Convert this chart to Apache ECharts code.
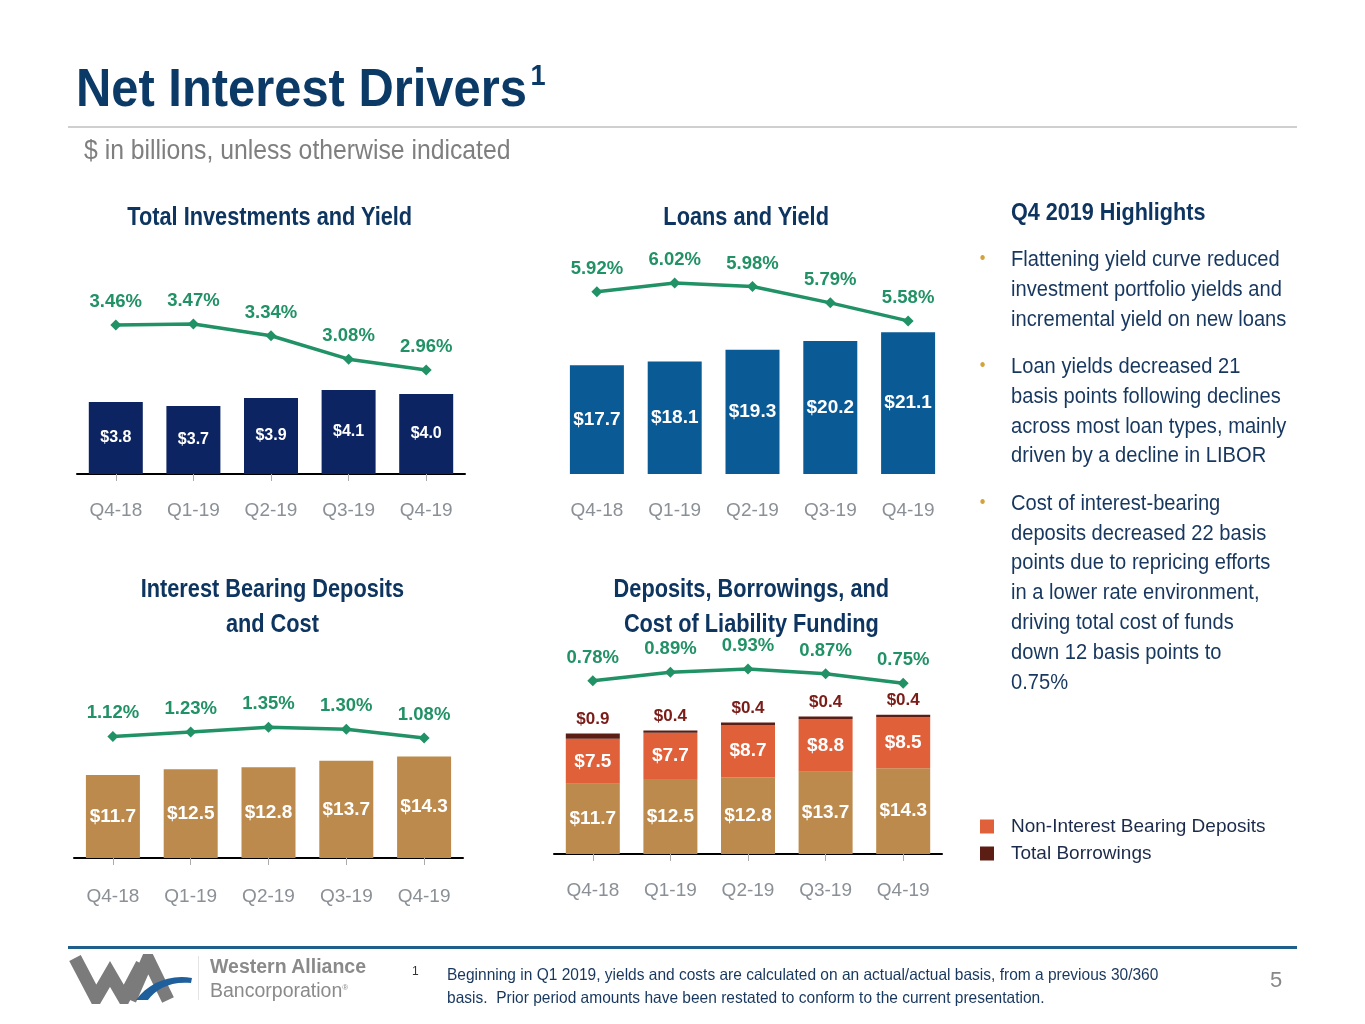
<!DOCTYPE html>
<html>
<head>
<meta charset="utf-8">
<script src="https://cdn.jsdelivr.net/npm/echarts@6/dist/echarts.min.js"></script>
<style>
  body { margin: 0; background: #fff; font-family: "Liberation Sans", Arial, sans-serif; }
  #page { position: relative; width: 1365px; height: 1024px; overflow: hidden; }
  #chart { position: absolute; left: 0; top: 0; width: 1365px; height: 1024px; }
  .t { position: absolute; white-space: nowrap; transform-origin: 0 0; }
  .ctitle { position: absolute; width: 400px; color: #0d3560; font-weight: bold; font-size: 25px; text-align: center; line-height: 35px; white-space: nowrap; }
  .ctitle span { display: inline-block; transform: scaleX(0.87); }
  ul { position: absolute; margin: 0; padding: 0; list-style: none; color: #17375e; font-size: 22.5px; line-height: 29.8px; white-space: nowrap; transform: scaleX(0.895); transform-origin: 0 0; }
  li { position: relative; margin-bottom: 17.6px; }
  li:before { content: "\2022"; position: absolute; left: -35px; color: #d4a23c; font-size: 18px; }
</style>
</head>
<body>
<div id="page">
  <div id="chart"></div>

  <div class="t" style="left:76px;top:50px;font-size:54px;line-height:54px;font-weight:bold;color:#0b3a67;transform:scaleX(0.905);">Net Interest Drivers<sup style="font-size:30px;position:relative;top:-2px;margin-left:4px;">1</sup></div>
  <div style="position:absolute;left:68px;top:126px;width:1229px;height:2px;background:#cfcfcf;"></div>
  <div class="t" style="left:84px;top:136px;font-size:27.5px;line-height:27.5px;color:#7f7f7f;transform:scaleX(0.9);">$ in billions, unless otherwise indicated</div>

  <div class="ctitle" style="left:70px;top:199px;"><span>Total Investments and Yield</span></div>
  <div class="ctitle" style="left:546px;top:199px;"><span>Loans and Yield</span></div>
  <div class="ctitle" style="left:72px;top:571px;"><span>Interest Bearing Deposits<br>and Cost</span></div>
  <div class="ctitle" style="left:551px;top:571px;"><span>Deposits, Borrowings, and<br>Cost of Liability Funding</span></div>

  <div class="t" style="left:1011px;top:198px;font-size:24px;font-weight:bold;color:#0d3560;transform:scaleX(0.9);">Q4 2019 Highlights</div>
  <ul style="left:1011px;top:244px;">
    <li>Flattening yield curve reduced<br>investment portfolio yields and<br>incremental yield on new loans</li>
    <li>Loan yields decreased 21<br>basis points following declines<br>across most loan types, mainly<br>driven by a decline in LIBOR</li>
    <li>Cost of interest-bearing<br>deposits decreased 22 basis<br>points due to repricing efforts<br>in a lower rate environment,<br>driving total cost of funds<br>down 12 basis points to<br>0.75%</li>
  </ul>

  <div style="position:absolute;left:68px;top:946px;width:1229px;height:3px;background:#1f5f8b;"></div>
  <svg style="position:absolute;left:68px;top:954px;" width="130" height="50" viewBox="0 0 130 50">
    <polyline points="7,4 28,44 42,20 56,44 74,10" fill="none" stroke="#7b7b7b" stroke-width="13" stroke-linejoin="miter"/>
    <polyline points="62,46 80,5 100,46" fill="none" stroke="#7b7b7b" stroke-width="13" stroke-linejoin="miter"/>
    <path d="M68,46 C80,30 100,20 124,24 L123,29 C102,27 88,35 80,46 Z" fill="#1f5f9b"/>
  </svg>
  <div style="position:absolute;left:198px;top:956px;width:1px;height:44px;background:#e4e4e4;"></div>
  <div class="t" style="left:210px;top:955px;font-weight:bold;font-size:19.5px;color:#8a8a8a;">Western Alliance</div>
  <div class="t" style="left:210px;top:979px;font-size:19.5px;color:#8a8a8a;">Bancorporation<sup style="font-size:8px;">&reg;</sup></div>
  <div class="t" style="left:412px;top:964px;font-size:12px;color:#333;">1</div>
  <div class="t" style="left:447px;top:963px;font-size:16.5px;line-height:23px;color:#17375e;transform:scaleX(0.94);">Beginning in Q1 2019, yields and costs are calculated on an actual/actual basis, from a previous 30/360<br>basis.&nbsp; Prior period amounts have been restated to conform to the current presentation.</div>
  <div class="t" style="left:1270px;top:967px;font-size:22px;color:#888;">5</div>
</div>
<script>
const quarters = ['Q4-18', 'Q1-19', 'Q2-19', 'Q3-19', 'Q4-19'];

const investments = [3.8, 3.7, 3.9, 4.1, 4.0];
const investmentYield = [3.46, 3.47, 3.34, 3.08, 2.96];

const loans = [17.7, 18.1, 19.3, 20.2, 21.1];
const loanYield = [5.92, 6.02, 5.98, 5.79, 5.58];

const interestBearing = [11.7, 12.5, 12.8, 13.7, 14.3];
const depositCost = [1.12, 1.23, 1.35, 1.30, 1.08];

const nonInterestBearing = [7.5, 7.7, 8.7, 8.8, 8.5];
const borrowings = [0.9, 0.4, 0.4, 0.4, 0.4];
const fundingCost = [0.78, 0.89, 0.93, 0.87, 0.75];

const FONT = '"Liberation Sans", Arial, sans-serif';
const GREEN = '#219166';
const money = (p) => '$' + p.value.toFixed(1);
const pct = (p) => p.value.toFixed(2) + '%';

const chart = echarts.init(document.getElementById('chart'));

const xAxisFor = (grid, showLine, margin) => ({
  type: 'category', gridIndex: grid, data: quarters,
  axisLine: { show: showLine, lineStyle: { color: '#000', width: 2 } },
  axisTick: { show: showLine, alignWithLabel: true, length: 7, lineStyle: { color: '#aaa' } },
  axisLabel: { color: '#8a9096', fontSize: 19, fontFamily: FONT, margin: margin },
});
const hiddenY = (grid, min, max) => ({
  type: 'value', gridIndex: grid, min: min, max: max, show: false, splitLine: { show: false },
});

const barLabel = (size) => ({
  show: true, position: 'inside', formatter: money, color: '#fff', fontWeight: 'bold', fontSize: size, fontFamily: FONT,
});

const barSeries = (name, x, y, data, color, extra) => Object.assign({
  name: name, type: 'bar', xAxisIndex: x, yAxisIndex: y, data: data, barWidth: 54,
  itemStyle: { color: color },
  label: barLabel(19),
}, extra || {});

const lineSeries = (x, y, data) => ({
  type: 'line', xAxisIndex: x, yAxisIndex: y, data: data,
  symbol: 'diamond', symbolSize: 11,
  lineStyle: { color: GREEN, width: 3.5 }, itemStyle: { color: GREEN },
  label: { show: true, position: 'top', distance: 8, formatter: pct, color: GREEN, fontWeight: 'bold', fontSize: 18.5, fontFamily: FONT },
  z: 5,
});

chart.setOption({
  animation: false,
  textStyle: { fontFamily: FONT },
  grid: [
    { left: 77, width: 388, top: 230, height: 244 },
    { left: 558, width: 389, top: 230, height: 244 },
    { left: 74, width: 389, top: 650, height: 208 },
    { left: 554, width: 388, top: 650, height: 204 },
  ],
  xAxis: [
    xAxisFor(0, true, 27),
    xAxisFor(1, false, 27),
    xAxisFor(2, true, 29),
    xAxisFor(3, true, 27),
  ],
  yAxis: [
    hiddenY(0, 2, 8.1), hiddenY(0, 1.804, 4.515),
    hiddenY(1, 6.5, 31.65), hiddenY(1, 3.8, 6.637),
    hiddenY(2, 0, 29.3), hiddenY(2, -1.92, 3.28),
    hiddenY(3, 0, 34), hiddenY(3, -1.44, 1.175),
  ],
  legend: {
    left: 975, top: 812, orient: 'vertical', itemWidth: 14, itemHeight: 14, itemGap: 8,
    icon: 'rect', data: ['Non-Interest Bearing Deposits', 'Total Borrowings'],
    textStyle: { color: '#1b2a4a', fontSize: 19, fontFamily: FONT, padding: [0, 0, 0, 12] },
  },
  series: [
    barSeries('Total Investments', 0, 0, investments, '#0c2461', { label: barLabel(16) }),
    lineSeries(0, 1, investmentYield),

    barSeries('Loans', 1, 2, loans, '#0a5a96'),
    lineSeries(1, 3, loanYield),

    barSeries('Interest Bearing Deposits', 2, 4, interestBearing, '#bb8a4c'),
    lineSeries(2, 5, depositCost),

    barSeries('Interest Bearing', 3, 6, interestBearing, '#bb8a4c', { stack: 'fund' }),
    barSeries('Non-Interest Bearing Deposits', 3, 6, nonInterestBearing, '#e0603a', { stack: 'fund' }),
    barSeries('Total Borrowings', 3, 6, borrowings, '#5c1e14', {
      stack: 'fund',
      label: { show: true, position: 'top', distance: 6, formatter: money, color: '#7a1c18', fontWeight: 'bold', fontSize: 17, fontFamily: FONT },
    }),
    lineSeries(3, 7, fundingCost),
  ],
});
</script>
</body>
</html>
